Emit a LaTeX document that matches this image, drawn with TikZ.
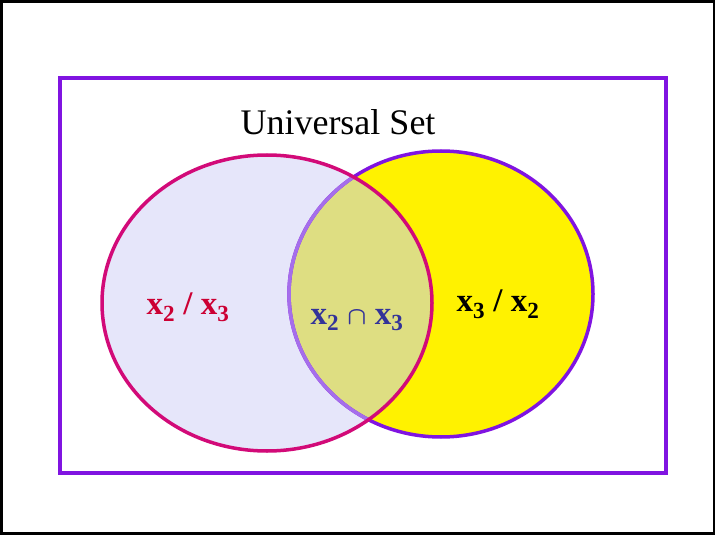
\documentclass[tikz,border=0pt]{standalone}
\usepackage{fontspec}
\usetikzlibrary{shapes.geometric}
\setmainfont{Liberation Serif}
\definecolor{lav}{RGB}{230,230,250}
\definecolor{olive}{RGB}{222,222,130}
\definecolor{vio}{RGB}{128,20,225}
\definecolor{lvio}{RGB}{165,110,235}
\definecolor{crim}{RGB}{210,10,120}
\definecolor{redt}{RGB}{204,0,51}
\definecolor{navy}{RGB}{51,51,153}
\begin{document}
\begin{tikzpicture}[x=1pt,y=-1pt,lbl/.style={font=\bfseries\fontsize{33}{36}\selectfont}]
\useasboundingbox (0,0) rectangle (720,540);
\fill[white] (0,0) rectangle (720,540);
\draw[line width=2.5pt] (1.5,1.5) rectangle (714,533.5);
\node[draw=vio,line width=4pt,minimum width=606pt,minimum height=395pt,inner sep=0pt] (U) at (363,275.5) {};
\node[ellipse,draw=none,fill=lav,minimum width=330pt,minimum height=296pt] (L) at (267,303) {};
\node[ellipse,draw=none,fill=yellow,minimum width=304pt,minimum height=286pt] (R) at (441,294) {};
\begin{scope}
\clip (267,303) ellipse (165 and 148);
\fill[olive] (441,294) ellipse (152 and 143);
\end{scope}
\draw[vio,line width=3.5pt] (441,294) ellipse (152 and 143);
\begin{scope}
\clip (267,303) ellipse (165 and 148);
\draw[lvio,line width=3.5pt] (441,294) ellipse (152 and 143);
\end{scope}
\draw[crim,line width=3.5pt] (267,303) ellipse (165 and 148);
\node[font=\fontsize{36}{40}\selectfont] (t) at (338,122) {Universal Set};
\node[lbl,text=redt] (a) at (188,307) {x\textsubscript{2} / x\textsubscript{3}};
\node[lbl,text=navy] (b) at (357,320) {x\textsubscript{2} {\boldmath$\cap$} x\textsubscript{3}};
\node[lbl] (c) at (498,304) {x\textsubscript{3} / x\textsubscript{2}};
\end{tikzpicture}
\end{document}
